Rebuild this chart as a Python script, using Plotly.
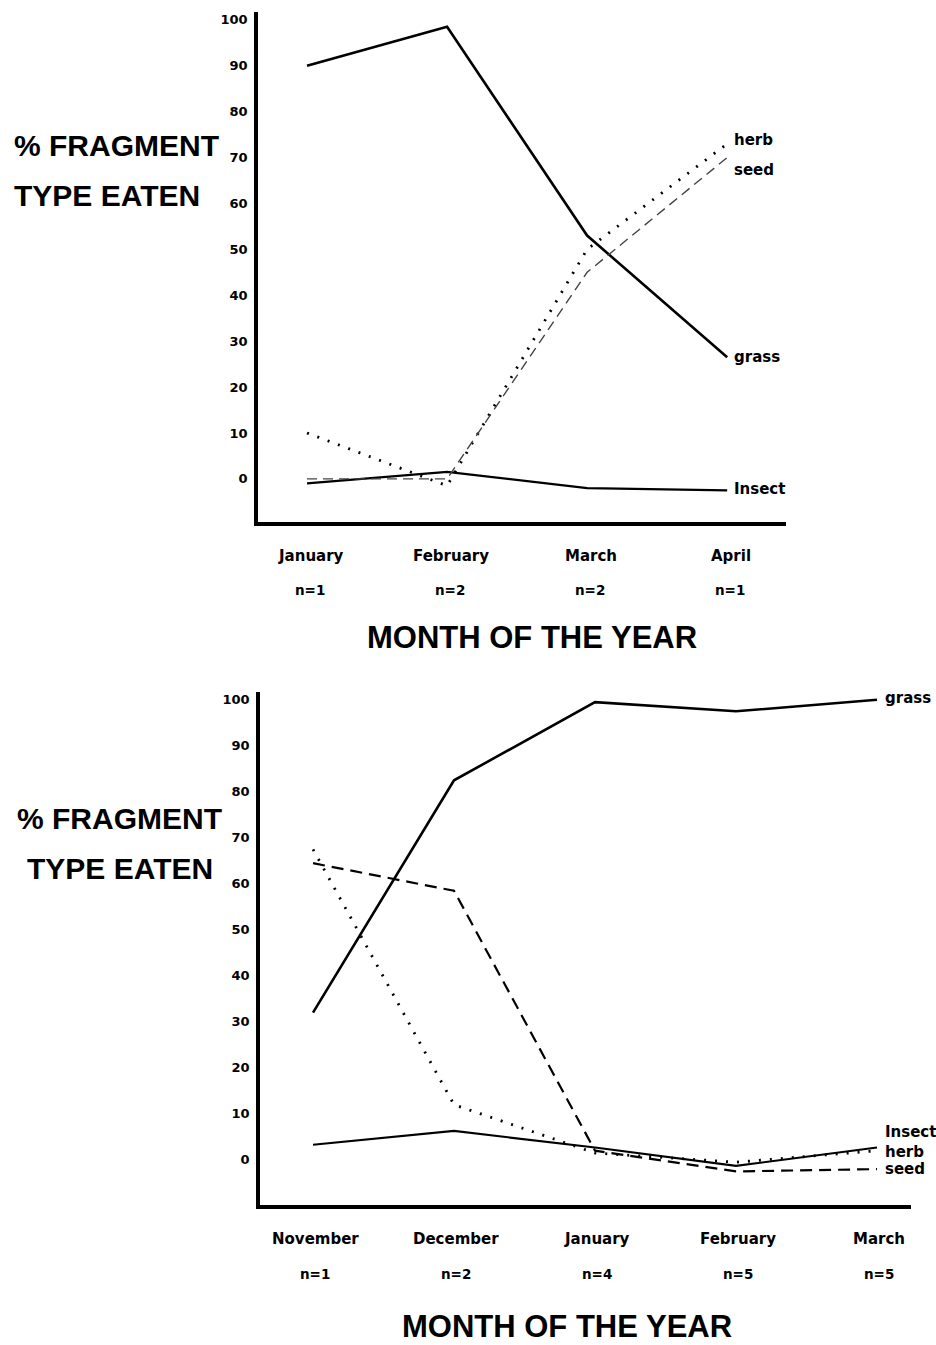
import plotly.graph_objects as go

# ---------------- data ----------------
top_months = ["January", "February", "March", "April"]
top_n = ["n=1", "n=2", "n=2", "n=1"]
top_grass = [90, 98.5, 53, 26.5]
top_herb = [10, -1.5, 50, 73]
top_seed = [0, 0, 45, 70]
top_insect = [-1, 1.5, -2, -2.5]

bot_months = ["November", "December", "January", "February", "March"]
bot_n = ["n=1", "n=2", "n=4", "n=5", "n=5"]
bot_grass = [32, 82.5, 99.5, 97.5, 100]
bot_herb = [67.5, 12, 1.5, -0.5, 2]
bot_seed = [64.5, 58.5, 2, -2.5, -2]
bot_insect = [3.3, 6.3, 2.7, -1.3, 2.7]

y_ticks = [0, 10, 20, 30, 40, 50, 60, 70, 80, 90, 100]
y_ticktext = [str(v) for v in y_ticks]

W, H = 936, 1345
BIG = "Liberation Sans"
SMALL = "DejaVu Sans"


def py(pix):
    """pixel row (from top) -> paper y"""
    return 1 - pix / H


def px(pix):
    return pix / W


fig = go.Figure()

styles = {
    "grass": dict(color="black", width=2.6, dash="solid"),
    "insect": dict(color="black", width=2.2, dash="solid"),
    "herb": dict(color="black", width=2.8, dash="2px,9px"),
}


def add_panel(months, grass, herb, seed, insect, xa, ya, seed_style):
    xs = list(range(len(months)))
    fig.add_trace(go.Scatter(x=xs, y=grass, mode="lines", line=styles["grass"],
                             xaxis=xa, yaxis=ya, showlegend=False))
    fig.add_trace(go.Scatter(x=xs, y=insect, mode="lines", line=styles["insect"],
                             xaxis=xa, yaxis=ya, showlegend=False))
    fig.add_trace(go.Scatter(x=xs, y=herb, mode="lines", line=styles["herb"],
                             xaxis=xa, yaxis=ya, showlegend=False))
    fig.add_trace(go.Scatter(x=xs, y=seed, mode="lines", line=seed_style,
                             xaxis=xa, yaxis=ya, showlegend=False))


add_panel(top_months, top_grass, top_herb, top_seed, top_insect, "x", "y",
          dict(color="#444", width=1.4, dash="10px,6px"))
add_panel(bot_months, bot_grass, bot_herb, bot_seed, bot_insect, "x2", "y2",
          dict(color="black", width=2.2, dash="12px,7px"))

axis_common = dict(showline=True, linewidth=3.5, linecolor="black", mirror=False,
                   showgrid=False, zeroline=False, ticks="")
tick_font = dict(family=SMALL, size=13, color="black", weight="bold")

fig.update_layout(
    width=W, height=H,
    margin=dict(l=0, r=0, t=0, b=0),
    paper_bgcolor="white", plot_bgcolor="white",
    xaxis=dict(domain=[px(258), px(786)], range=[-0.35, 3.42], anchor="y",
               showticklabels=False, **axis_common),
    yaxis=dict(domain=[py(522), py(12)], range=[-9.4, 101.7], anchor="x",
               tickvals=y_ticks, ticktext=y_ticktext, ticklabelstandoff=4,
               tickfont=tick_font, **axis_common),
    xaxis2=dict(domain=[px(260), px(911)], range=[-0.376, 4.241], anchor="y2",
                showticklabels=False, **axis_common),
    yaxis2=dict(domain=[py(1205), py(692)], range=[-9.8, 101.7], anchor="x2",
                tickvals=y_ticks, ticktext=y_ticktext, ticklabelstandoff=4,
                tickfont=tick_font, **axis_common),
)

ann = []
month_font = dict(family=SMALL, size=15, color="black", weight="bold")
n_font = dict(family=SMALL, size=13.5, color="black", weight="bold")
for i, (m, n) in enumerate(zip(top_months, top_n)):
    ann.append(dict(x=i, y=py(556), xref="x", yref="paper", text=m, showarrow=False,
                    font=month_font, xanchor="center", yanchor="middle", xshift=4))
    ann.append(dict(x=i, y=py(590), xref="x", yref="paper", text=n, showarrow=False,
                    font=n_font, xanchor="center", yanchor="middle", xshift=3))
for i, (m, n) in enumerate(zip(bot_months, bot_n)):
    ann.append(dict(x=i, y=py(1239), xref="x2", yref="paper", text=m, showarrow=False,
                    font=month_font, xanchor="center", yanchor="middle", xshift=2))
    ann.append(dict(x=i, y=py(1274), xref="x2", yref="paper", text=n, showarrow=False,
                    font=n_font, xanchor="center", yanchor="middle", xshift=2))

title_font = dict(family=BIG, size=31, color="black", weight="bold")
ylab_font = dict(family=BIG, size=30, color="black", weight="bold")
ann.append(dict(x=px(532), y=py(638), xref="paper", yref="paper", text="MONTH OF THE YEAR",
                showarrow=False, font=title_font, xanchor="center", yanchor="middle"))
ann.append(dict(x=px(567), y=py(1326), xref="paper", yref="paper", text="MONTH OF THE YEAR",
                showarrow=False, font=title_font, xanchor="center", yanchor="middle"))
ann.append(dict(x=px(12), y=py(145), xref="paper", yref="paper", text="% FRAGMENT",
                showarrow=False, font=ylab_font, xanchor="left", yanchor="middle"))
ann.append(dict(x=px(12), y=py(196), xref="paper", yref="paper", text="TYPE EATEN",
                showarrow=False, font=ylab_font, xanchor="left", yanchor="middle"))
ann.append(dict(x=px(15), y=py(818), xref="paper", yref="paper", text="% FRAGMENT",
                showarrow=False, font=ylab_font, xanchor="left", yanchor="middle"))
ann.append(dict(x=px(25), y=py(868), xref="paper", yref="paper", text="TYPE EATEN",
                showarrow=False, font=ylab_font, xanchor="left", yanchor="middle"))

lab_font = dict(family=SMALL, size=15, color="black", weight="bold")
# series end labels (top panel)
last = len(top_months) - 1
for name, vals, ys in [("herb", top_herb, 4), ("seed", top_seed, -12),
                       ("grass", top_grass, 0), ("Insect", top_insect, 1)]:
    ann.append(dict(x=last, y=vals[last], xref="x", yref="y", text=name, showarrow=False,
                    font=lab_font, xanchor="left", yanchor="middle", xshift=5, yshift=ys))
last = len(bot_months) - 1
for name, vals, ys in [("grass", bot_grass, 2), ("Insect", bot_insect, 15),
                       ("herb", bot_herb, -1), ("seed", bot_seed, 0)]:
    ann.append(dict(x=last, y=vals[last], xref="x2", yref="y2", text=name, showarrow=False,
                    font=lab_font, xanchor="left", yanchor="middle", xshift=6, yshift=ys))

fig.update_layout(annotations=ann)
fig.write_html("out.html", config={"displayModeBar": False},
               post_script="document.body.style.margin='0';")
